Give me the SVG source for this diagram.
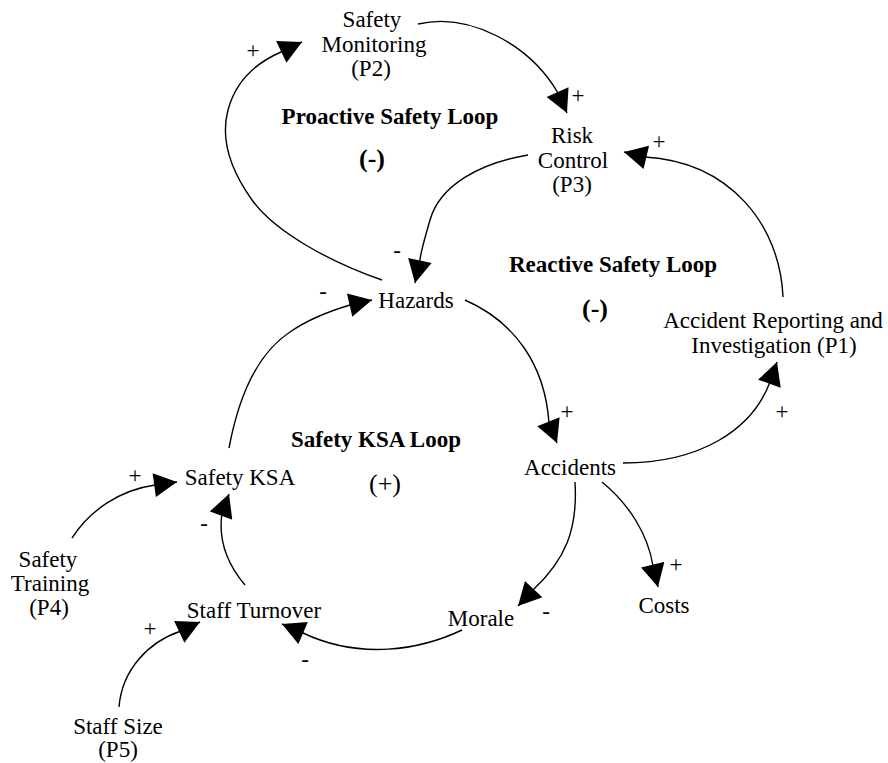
<svg xmlns="http://www.w3.org/2000/svg" width="888" height="763" viewBox="0 0 888 763">
<style>
  text { font-family: "Liberation Serif", "Times New Roman", serif; font-size: 23px; fill: #000; }
  .n { text-anchor: middle; }
  .loop { font-weight: bold; text-anchor: middle; }
  .pol { font-size: 26px; text-anchor: middle; }
  .s { text-anchor: middle; }
  .c { fill: none; stroke: #000; stroke-width: 1.4; marker-end: url(#ah); }
</style>
<defs>
  <marker id="ah" markerUnits="userSpaceOnUse" markerWidth="24" markerHeight="24" refX="22" refY="11.5" orient="auto" viewBox="0 0 22 23">
    <path d="M0,0 L22,11.5 L0,23 Z" fill="#000"/>
  </marker>
</defs>
<rect width="888" height="763" fill="#fff"/>

<g id="connectors">
  <path class="c" d="M382,280 C330,262 275,232 252,200 C232,172 220,140 228,110 C236,80 258,62 281,52 L302,42"/>
  <path class="c" d="M418,24 C470,12 530,45 558,93 L567,113"/>
  <path class="c" d="M528,155 C480,163 440,185 430,220 C425,238 421,250 420,260 L415,283"/>
  <path class="c" d="M229,448 C238,400 255,355 290,332 C310,318 330,311 350,305 L372,300"/>
  <path class="c" d="M465,300 C515,322 545,365 549,423 L557,443"/>
  <path class="c" d="M623,463 C700,463 752,430 770,382 L777,362"/>
  <path class="c" d="M783,297 C780,225 730,162 645,157 L624,152"/>
  <path class="c" d="M72,538 C90,510 120,490 155,485 L177,482"/>
  <path class="c" d="M245,585 C228,565 218,540 222,513 L229,494"/>
  <path class="c" d="M575,482 C578,530 565,560 533,590 L518,606"/>
  <path class="c" d="M602,482 C630,505 648,535 653,566 L658,587"/>
  <path class="c" d="M462,630 C420,650 360,660 303,633 L282,624"/>
  <path class="c" d="M119,707 C122,670 148,642 181,631 L200,622"/>
</g>

<g id="signs">
  <text class="s" x="253" y="58">+</text>
  <text class="s" x="578" y="103">+</text>
  <text class="s" x="659" y="149">+</text>
  <text class="s" x="397" y="258">-</text>
  <text class="s" x="323" y="299">-</text>
  <text class="s" x="567" y="419">+</text>
  <text class="s" x="782" y="419">+</text>
  <text class="s" x="135" y="483">+</text>
  <text class="s" x="204" y="531">-</text>
  <text class="s" x="546" y="619">-</text>
  <text class="s" x="676" y="572">+</text>
  <text class="s" x="305" y="667">-</text>
  <text class="s" x="150" y="636">+</text>
</g>

<g id="loop-proactive">
  <text class="loop" x="390" y="124">Proactive Safety Loop</text>
  <text class="pol" x="372" y="167" font-weight="bold">(-)</text>
</g>
<g id="loop-reactive">
  <text class="loop" x="613" y="272">Reactive Safety Loop</text>
  <text class="pol" x="595" y="317" font-weight="bold">(-)</text>
</g>
<g id="loop-ksa">
  <text class="loop" x="376" y="447">Safety KSA Loop</text>
  <text class="pol" x="385" y="492">(+)</text>
</g>

<g id="safety-monitoring">
  <text class="n" x="373" y="27"><tspan x="372">Safety</tspan><tspan x="374" dy="24.5">Monitoring</tspan><tspan x="371" dy="24">(P2)</tspan></text>
</g>
<g id="risk-control">
  <text class="n" x="572" y="143"><tspan x="572">Risk</tspan><tspan x="573" dy="24.5">Control</tspan><tspan x="572" dy="24">(P3)</tspan></text>
</g>
<g id="hazards">
  <text class="n" x="416" y="308">Hazards</text>
</g>
<g id="accident-reporting">
  <text class="n" x="773" y="328"><tspan x="773">Accident Reporting and</tspan><tspan x="774" dy="25">Investigation (P1)</tspan></text>
</g>
<g id="accidents">
  <text class="n" x="570" y="475">Accidents</text>
</g>
<g id="safety-ksa">
  <text class="n" x="240" y="485">Safety KSA</text>
</g>
<g id="safety-training">
  <text class="n" x="49" y="567"><tspan x="48">Safety</tspan><tspan x="50" dy="24">Training</tspan><tspan x="49" dy="24">(P4)</tspan></text>
</g>
<g id="staff-turnover">
  <text class="n" x="254" y="618">Staff Turnover</text>
</g>
<g id="morale">
  <text class="n" x="481" y="626">Morale</text>
</g>
<g id="costs">
  <text class="n" x="664" y="613">Costs</text>
</g>
<g id="staff-size">
  <text class="n" x="118" y="734"><tspan x="118">Staff Size</tspan><tspan x="118" dy="23">(P5)</tspan></text>
</g>
</svg>
